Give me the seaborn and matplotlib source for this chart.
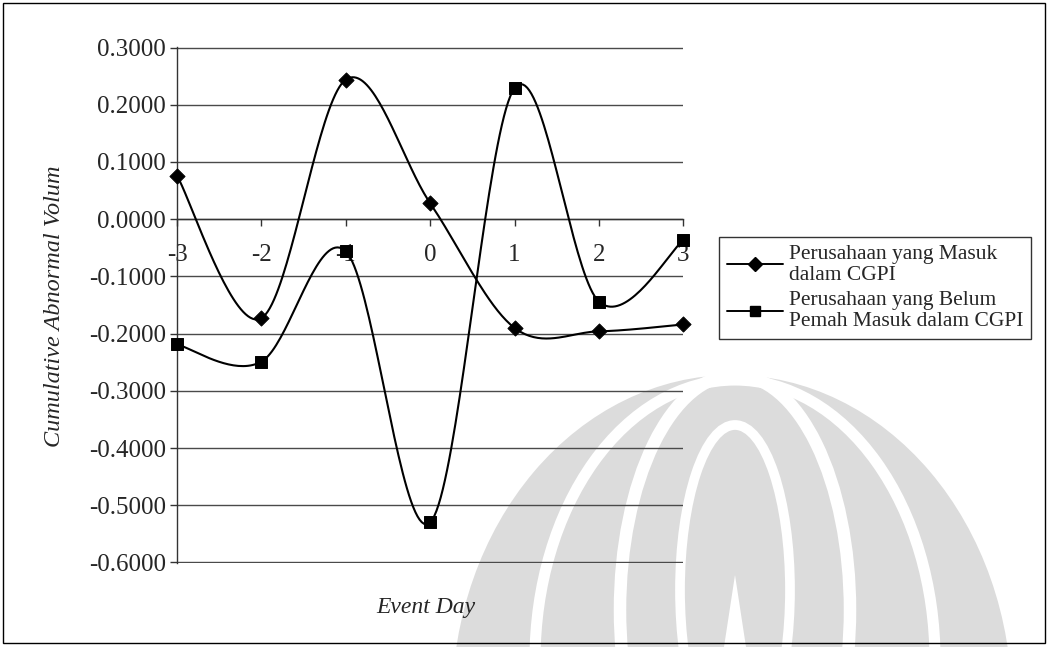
import numpy as np
import pandas as pd
import matplotlib
matplotlib.use("Agg")
import matplotlib.pyplot as plt
from matplotlib.lines import Line2D
from matplotlib.patches import Rectangle, Ellipse, Polygon
import seaborn as sns

# ---- data -------------------------------------------------------------
event_days = [-3, -2, -1, 0, 1, 2, 3]
masuk_cgpi = [0.076, -0.173, 0.244, 0.028, -0.190, -0.196, -0.184]
belum_cgpi = [-0.219, -0.249, -0.056, -0.530, 0.229, -0.144, -0.037]
series_names = ["Perusahaan yang Masuk\ndalam CGPI",
                "Perusahaan yang Belum\nPemah Masuk dalam CGPI"]
y_ticks = [0.3, 0.2, 0.1, 0.0, -0.1, -0.2, -0.3, -0.4, -0.5, -0.6]

# ---- style ------------------------------------------------------------
sns.set_theme(style="white")
plt.rcParams["font.family"] = ["Liberation Serif", "DejaVu Serif"]
plt.rcParams["axes.unicode_minus"] = False

W, H = 1048, 647
fig = plt.figure(figsize=(W / 100, H / 100), dpi=100)
fig.patch.set_facecolor("white")


def fx(px):
    return px / W


def fy(py):
    return 1 - py / H


# faint watermark emblem behind the chart
wm = "#dcdcdc"
fig.patches.append(Ellipse((fx(732), fy(705)), 560 / W, 660 / H,
                           transform=fig.transFigure, facecolor=wm,
                           edgecolor="none", zorder=0))
for (cx, cy, w, h, lw) in [(735, 610, 230, 470, 9), (735, 660, 400, 560, 8),
                           (735, 590, 110, 330, 7)]:
    fig.patches.append(Ellipse((fx(cx), fy(cy)), w / W, h / H,
                               transform=fig.transFigure, facecolor="none",
                               edgecolor="white", lw=lw, zorder=0))
fig.patches.append(Polygon([(fx(722), fy(660)), (fx(735), fy(575)), (fx(748), fy(660))],
                           closed=True, transform=fig.transFigure,
                           facecolor="white", edgecolor="none", zorder=0))

# outer chart border
fig.patches.append(Rectangle((fx(3), fy(643)), 1042 / W, 640 / H,
                             transform=fig.transFigure, facecolor="none",
                             edgecolor="black", lw=1.0, zorder=1))

ax = fig.add_axes([fx(177), fy(563.3), (683.3 - 177) / W, (563.3 - 47.3) / H])
ax.set_facecolor("none")
ax.set_zorder(2)

# ---- smoothed curves (Catmull-Rom in screen-like units) -----------------
x_scale, y_scale = 84.4, 573.3


def smooth(xs, ys, n=40):
    P = np.column_stack([np.asarray(xs, float) * x_scale, np.asarray(ys, float) * y_scale])
    pts = np.vstack([P[0], P, P[-1]])
    out = []
    for i in range(1, len(pts) - 2):
        p0, p1, p2, p3 = pts[i - 1], pts[i], pts[i + 1], pts[i + 2]
        c1 = p1 + (p2 - p0) / 6
        c2 = p2 - (p3 - p1) / 6
        t = np.linspace(0, 1, n, endpoint=(i == len(pts) - 3))[:, None]
        seg = ((1 - t) ** 3) * p1 + 3 * ((1 - t) ** 2) * t * c1 + 3 * (1 - t) * t ** 2 * c2 + t ** 3 * p2
        out.append(seg)
    out = np.vstack(out)
    return out[:, 0] / x_scale, out[:, 1] / y_scale


for vals, mk, ms in [(masuk_cgpi, "D", 60), (belum_cgpi, "s", 75)]:
    sx, sy = smooth(event_days, vals)
    curve = pd.DataFrame({"x": sx, "y": sy})
    sns.lineplot(data=curve, x="x", y="y", sort=False, color="black",
                 lw=1.5, ax=ax, zorder=3)
    pts = pd.DataFrame({"x": event_days, "y": vals})
    sns.scatterplot(data=pts, x="x", y="y", marker=mk, s=ms, color="black",
                    edgecolor="black", ax=ax, zorder=4, clip_on=False)

# ---- axes -------------------------------------------------------------
ax.set_xlim(-3, 3)
ax.set_ylim(-0.6015, 0.3005)
ax.set_yticks(y_ticks)
ax.set_yticklabels([f"{v:.4f}" for v in y_ticks])
ax.set_xticks(event_days)
ax.set_xticklabels([str(d) for d in event_days])
ax.yaxis.grid(True, color="#4a4a4a", lw=1.0)
ax.xaxis.grid(False)
for s in ["top", "right"]:
    ax.spines[s].set_visible(False)
ax.spines["left"].set_color("#333333")
ax.spines["left"].set_linewidth(1.0)
ax.spines["bottom"].set_position(("data", 0))
ax.spines["bottom"].set_color("#333333")
ax.spines["bottom"].set_linewidth(1.0)
ax.tick_params(axis="y", direction="out", length=5, width=1, color="#333333",
               pad=3, labelsize=18, left=True)
ax.tick_params(axis="x", direction="out", length=5, width=1, color="#333333",
               pad=13, labelsize=18, bottom=True)
ax.set_xlabel("")
ax.set_ylabel("")

fig.text(fx(55), fy(306), "Cumulative Abnormal Volum", rotation=90,
         ha="center", va="center", fontsize=17.5, style="italic")
fig.text(fx(426), fy(608), "Event Day", ha="center", va="center",
         fontsize=17, style="italic")

# ---- legend -----------------------------------------------------------
handles = [Line2D([0], [0], color="black", lw=1.4, marker="D", markersize=7),
           Line2D([0], [0], color="black", lw=1.4, marker="s", markersize=7)]
leg = fig.legend(handles, series_names, loc="upper left",
                 bbox_to_anchor=(fx(719), fy(237)), frameon=True,
                 fancybox=False, edgecolor="black", fontsize=15.5,
                 handlelength=2.6, handletextpad=0.3, borderpad=0.35,
                 labelspacing=0.3, borderaxespad=0)
leg.get_frame().set_linewidth(1.0)
for t in leg.get_texts():
    t.set_linespacing(1.15)

fig.savefig("out.png", dpi=100, facecolor="white")
